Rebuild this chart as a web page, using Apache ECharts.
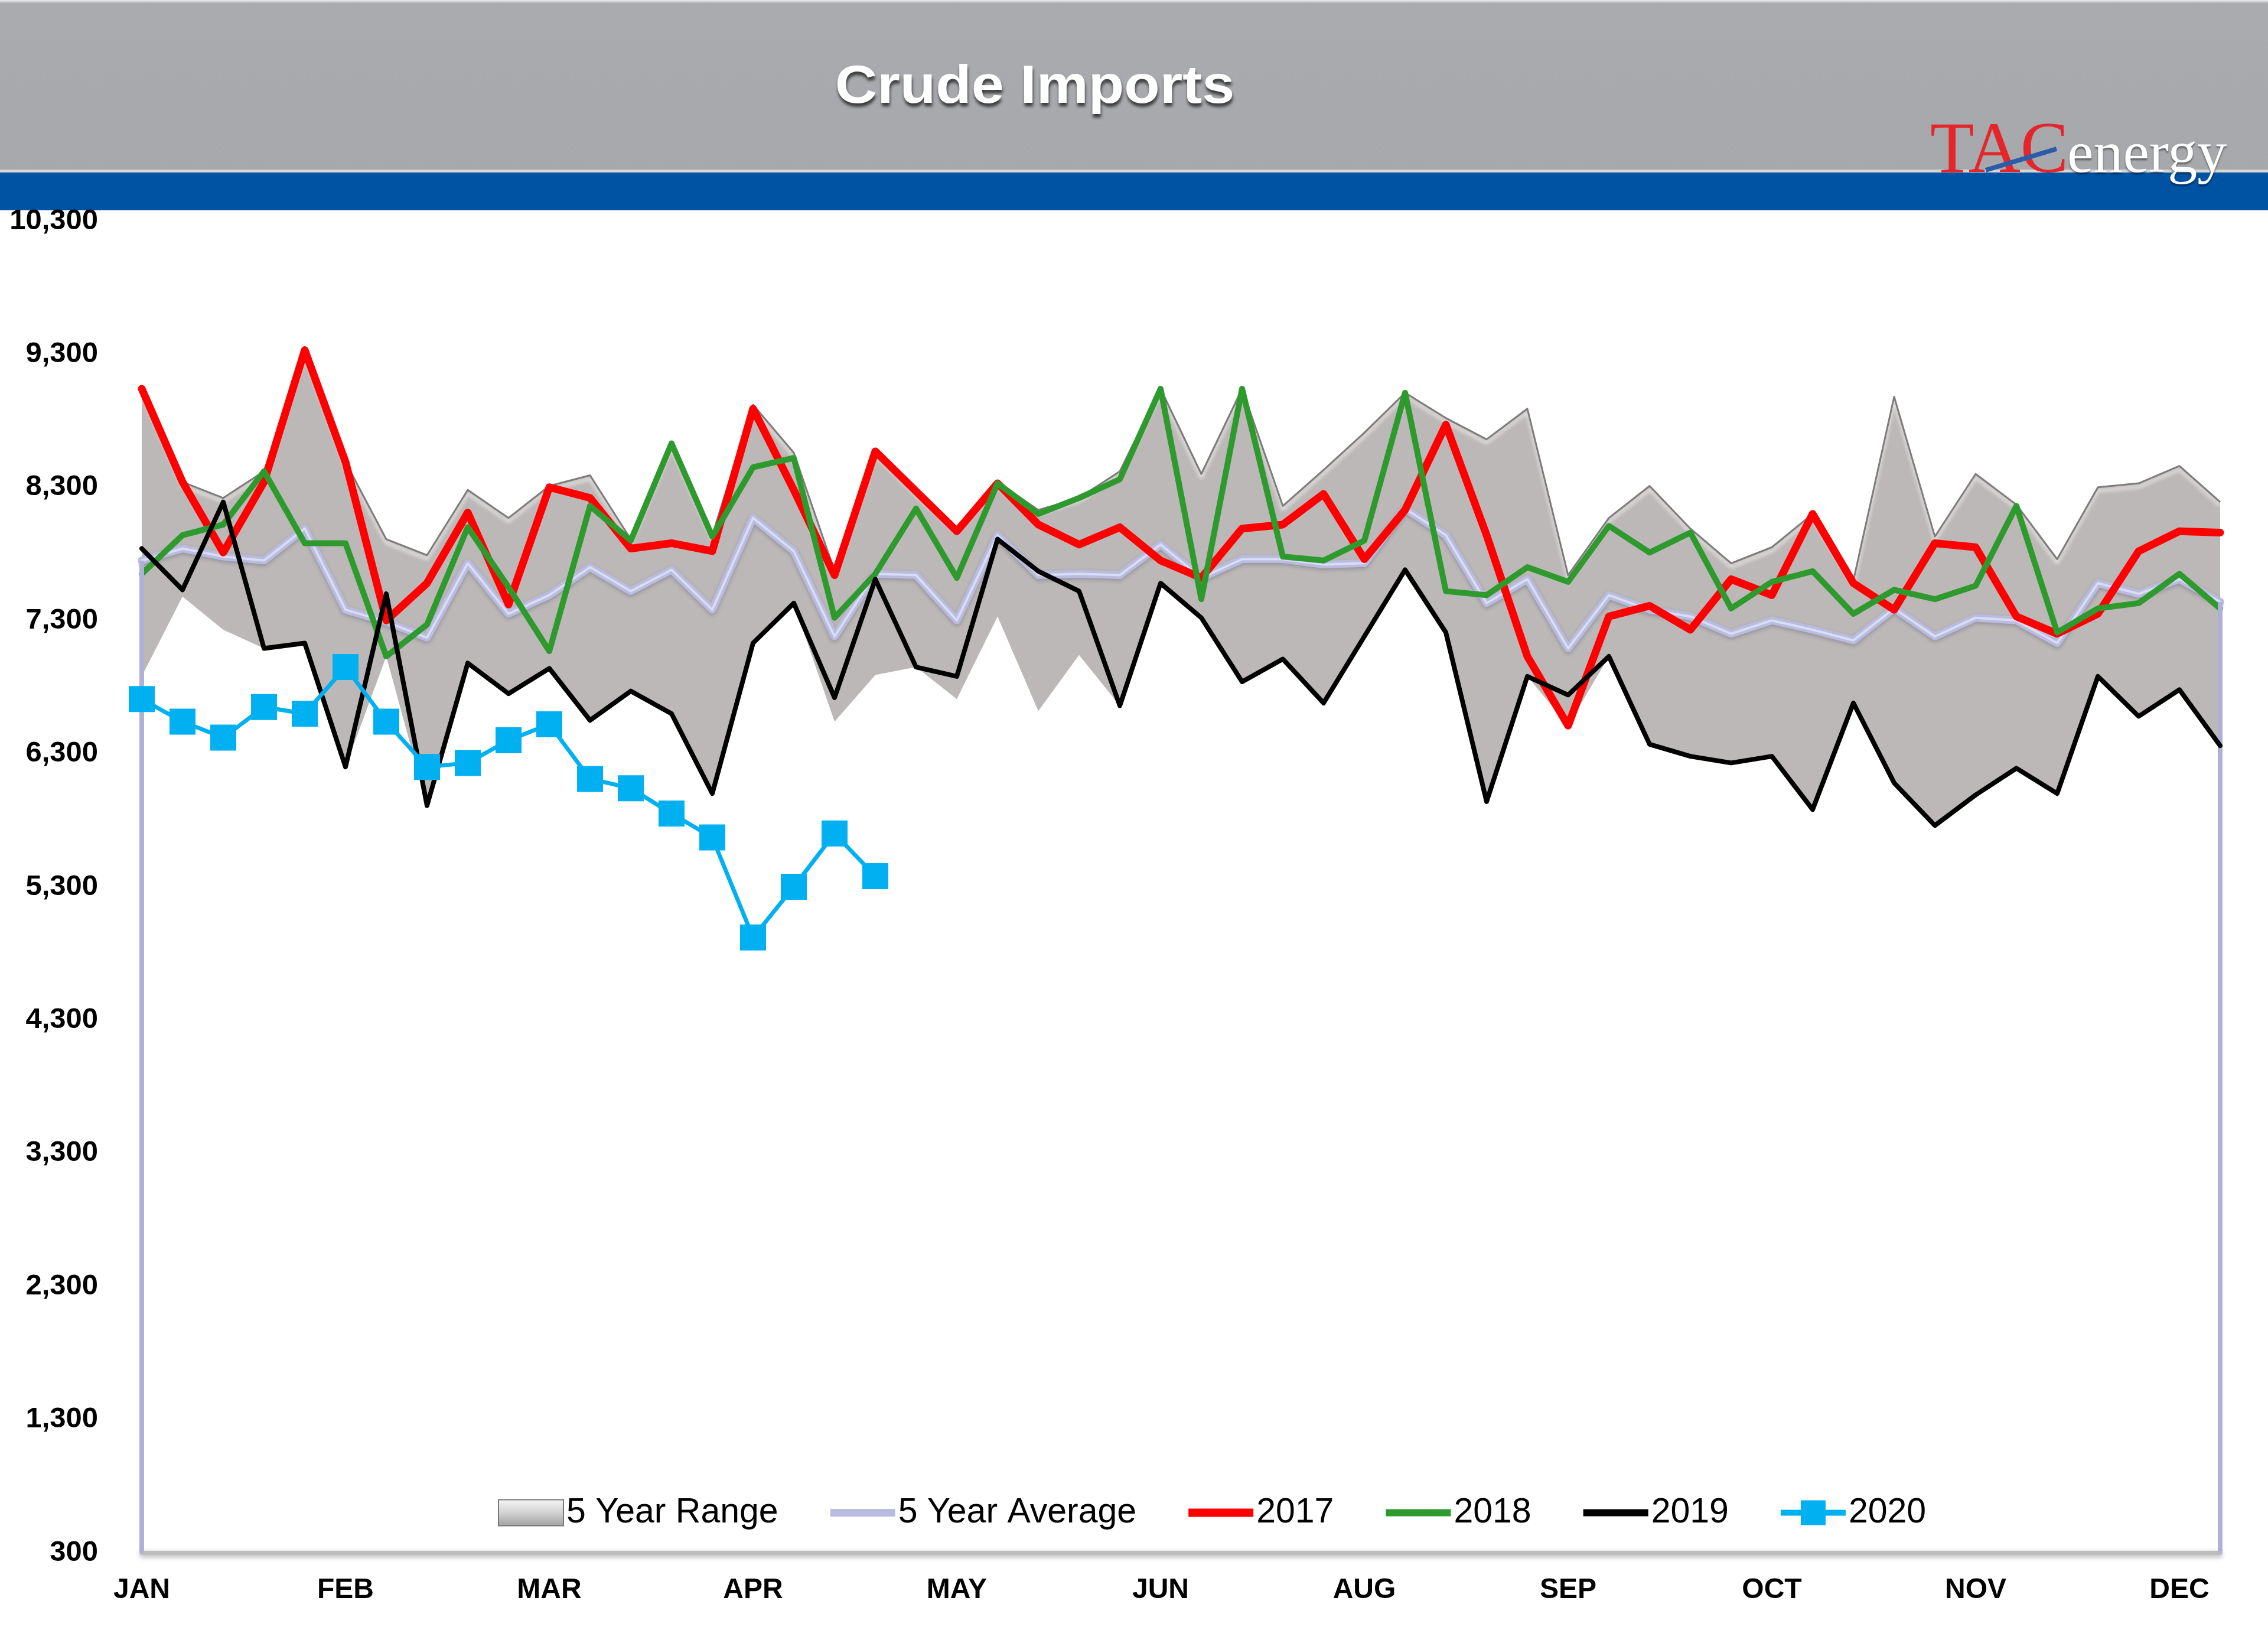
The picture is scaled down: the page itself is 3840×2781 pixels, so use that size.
<!DOCTYPE html>
<html>
<head>
<meta charset="utf-8">
<script src="https://cdn.jsdelivr.net/npm/echarts/dist/echarts.min.js"></script>
<style>
html,body{margin:0;padding:0;background:#ffffff;}
#chart{width:3840px;height:2781px;}
</style>
</head>
<body>
<div id="chart"></div>
<script>
// ---- DATA ----
const monthTicks = ['JAN','FEB','MAR','APR','MAY','JUN','AUG','SEP','OCT','NOV','DEC'];
const weekCount = 52;
const categories = Array.from({length: weekCount}, (_, i) => (i % 5 === 0 ? monthTicks[i / 5] : 'W' + (i + 1)));

const yMin = 300;
const yMax = 10300;
const yStep = 1000;

const range5Max = [9040,8340,8220,8420,9330,8490,7910,7790,8280,8070,
                   8310,8390,7910,8630,7940,8920,8560,7670,8570,8270,
                   7990,8340,8130,8220,8420,9040,8400,9040,8160,8430,
                   8710,9010,8820,8660,8890,7640,8070,8310,7990,7730,
                   7850,8100,7600,8980,7930,8400,8170,7760,8300,8330,
                   8460,8190];
const range5Min = [6880,7480,7230,7090,7130,6200,7030,5910,6980,6750,
                   6940,6550,6770,6600,6000,7130,7430,6540,6890,6950,
                   6710,7330,6620,7040,6660,7580,7320,6840,7010,6680,
                   7180,7680,7210,5940,6880,6510,7030,6370,6280,6230,
                   6280,5880,6680,6080,5760,5990,6190,6000,6880,6580,
                   6780,6360];
const avg5 = [7750,7840,7780,7750,7990,7380,7290,7170,7730,7350,
              7490,7700,7520,7680,7380,8070,7820,7180,7650,7640,
              7300,7940,7640,7650,7640,7870,7620,7760,7760,7720,
              7730,8140,7940,7430,7610,7090,7490,7380,7330,7200,
              7300,7230,7150,7390,7180,7320,7300,7130,7580,7500,
              7610,7440];
const y2017 = [9040,8340,7810,8340,9330,8490,7300,7580,8110,7420,
               8300,8220,7840,7880,7820,8890,8280,7640,8570,8270,
               7970,8330,8020,7870,8000,7750,7620,7990,8020,8250,
               7760,8130,8770,7940,7030,6510,7330,7410,7230,7610,
               7490,8100,7580,7380,7880,7850,7330,7200,7350,7820,
               7970,7960];
const y2018 = [7650,7940,8020,8420,7880,7880,7030,7270,8000,7550,
               7070,8160,7900,8630,7930,8450,8520,7320,7650,8140,
               7620,8330,8100,8220,8360,9040,7460,9040,7780,7750,
               7900,9010,7520,7490,7700,7590,8010,7810,7960,7390,
               7590,7670,7350,7530,7460,7560,8160,7210,7390,7430,
               7650,7390];
const y2019 = [7840,7530,8190,7090,7130,6200,7500,5910,6980,6750,
               6940,6550,6770,6600,6000,7130,7430,6720,7610,6950,
               6880,7910,7670,7520,6660,7580,7320,6840,7010,6680,
               7180,7680,7210,5940,6880,6740,7030,6370,6280,6230,
               6280,5880,6680,6080,5760,5990,6190,6000,6880,6580,
               6780,6360];
const y2020 = [6710,6540,6420,6650,6600,6950,6540,6200,6230,6400,
               6520,6110,6040,5850,5670,4920,5300,5700,5380];

const seriesNames = ['5 Year Range','5 Year Average','2017','2018','2019','2020'];

// derived: height of the range band stacked over the minimum
const rangeSpan = range5Max.map((v, i) => v - range5Min[i]);

const chart = echarts.init(document.getElementById('chart'), null, {renderer: 'canvas'});

const labelFont = 'Liberation Sans';
const colAvg = '#B9BBE0';
const col2017 = '#FF0000';
const col2018 = '#2E9A2E';
const col2019 = '#000000';
const col2020 = '#00B0F0';

function barIcon(t) {
  return 'path://M0,0L110,0L110,' + t + 'L0,' + t + 'Z';
}
const icon2020 = 'path://M0,17L110,17L110,27L0,27Z M34,1L76,1L76,43L34,43Z';

const option = {
  animation: false,
  backgroundColor: '#ffffff',
  grid: {left: 240, right: 81, top: 374, bottom: 153, containLabel: false},
  legend: {
    left: 838,
    top: 2526,
    itemWidth: 110,
    itemHeight: 44,
    itemGap: 88,
    symbolKeepAspect: true,
    textStyle: {fontSize: 59, color: '#000', fontFamily: labelFont},
    data: [
      {name: seriesNames[0], icon: 'rect',
       itemStyle: {color: new echarts.graphic.LinearGradient(0,0,0,1,[{offset:0,color:'#F6F6F6'},{offset:0.5,color:'#D2D2D2'},{offset:1,color:'#A0A0A0'}]),
                   borderColor: '#777777', borderWidth: 2}},
      {name: seriesNames[1], icon: barIcon(13), itemStyle: {color: colAvg, borderWidth: 0}},
      {name: seriesNames[2], icon: barIcon(14), itemStyle: {color: col2017, borderWidth: 0}},
      {name: seriesNames[3], icon: barIcon(12), itemStyle: {color: col2018, borderWidth: 0}},
      {name: seriesNames[4], icon: barIcon(12), itemStyle: {color: col2019, borderWidth: 0}},
      {name: seriesNames[5], icon: icon2020, itemStyle: {color: col2020, borderWidth: 0}}
    ]
  },
  xAxis: {
    type: 'category',
    data: categories,
    boundaryGap: false,
    axisLine: {show: true, lineStyle: {color: '#BDBDBD', width: 7, shadowColor: 'rgba(0,0,0,0.35)', shadowBlur: 8, shadowOffsetY: 3}},
    axisTick: {show: false},
    splitLine: {show: false},
    axisLabel: {
      interval: 4,
      margin: 40,
      fontSize: 48,
      fontWeight: 'bold',
      color: '#000',
      fontFamily: labelFont
    }
  },
  yAxis: {
    type: 'value',
    min: yMin,
    max: yMax,
    interval: yStep,
    axisLine: {show: false},
    axisTick: {show: false},
    splitLine: {show: false},
    axisLabel: {
      margin: 74,
      fontSize: 49,
      fontWeight: 'bold',
      color: '#000',
      fontFamily: labelFont,
      formatter: v => v.toLocaleString('en-US')
    }
  },
  series: [
    {
      name: 'rangeBase', type: 'line', stack: 'range', data: range5Min,
      symbol: 'none', silent: true, lineStyle: {opacity: 0}, z: 1
    },
    {
      name: seriesNames[0], type: 'line', stack: 'range', data: rangeSpan,
      symbol: 'none', silent: true, z: 1,
      itemStyle: {color: '#BCB8B7'},
      lineStyle: {color: '#7E7B7B', width: 3, join: 'round',
                  shadowColor: 'rgba(255,255,255,0.95)', shadowBlur: 6, shadowOffsetY: 6},
      areaStyle: {color: '#BCB8B7', opacity: 1}
    },
    {
      name: seriesNames[1], type: 'line', data: avg5, symbol: 'none', z: 2,
      itemStyle: {color: colAvg},
      lineStyle: {color: colAvg, width: 13, join: 'round', cap: 'round',
                  shadowColor: 'rgba(60,60,90,0.3)', shadowBlur: 6, shadowOffsetY: 3},
      markLine: {
        symbol: 'none', silent: true, label: {show: false},
        lineStyle: {color: '#AEB0D8', width: 8, type: 'solid'},
        data: [
          [{coord: [categories[0], yMin]}, {coord: [categories[0], avg5[0]]}],
          [{coord: [categories[weekCount - 1], yMin]}, {coord: [categories[weekCount - 1], avg5[weekCount - 1]]}]
        ]
      }
    },
    {
      name: 'avgHighlight', type: 'line', data: avg5, symbol: 'none', z: 2, silent: true,
      lineStyle: {color: 'rgba(222,224,244,0.9)', width: 4, join: 'round', cap: 'round'}
    },
    {
      name: seriesNames[2], type: 'line', data: y2017, symbol: 'none', z: 3,
      itemStyle: {color: col2017},
      lineStyle: {color: col2017, width: 13, join: 'round', cap: 'round'}
    },
    {
      name: seriesNames[3], type: 'line', data: y2018, symbol: 'none', z: 4,
      itemStyle: {color: col2018},
      lineStyle: {color: col2018, width: 10, join: 'round', cap: 'round'}
    },
    {
      name: seriesNames[4], type: 'line', data: y2019, symbol: 'none', z: 5,
      itemStyle: {color: col2019},
      lineStyle: {color: col2019, width: 8, join: 'round', cap: 'round'}
    },
    {
      name: seriesNames[5], type: 'line', data: y2020, symbol: 'rect', symbolSize: 44, z: 6,
      itemStyle: {color: col2020},
      lineStyle: {color: col2020, width: 7, join: 'round'}
    }
  ],
  graphic: [
    {type: 'rect', silent: true, z: 0, shape: {x: 0, y: 0, width: 3840, height: 290},
     style: {fill: new echarts.graphic.LinearGradient(0,0,0,1,[{offset:0,color:'#EDEEEF'},{offset:0.02,color:'#A9ABAE'},{offset:1,color:'#A6A8AB'}])}},
    {type: 'rect', silent: true, z: 0, shape: {x: 0, y: 287, width: 3840, height: 5}, style: {fill: '#D8D6D2'}},
    {type: 'rect', silent: true, z: 0, shape: {x: 0, y: 292, width: 3840, height: 64}, style: {fill: '#0052A3'}},
    {type: 'text', silent: true, z: 1, x: 1752, y: 149, scaleX: 1.1, originX: 0,
     style: {text: 'Crude Imports', fill: '#FFFFFF', font: 'bold 90px "Liberation Sans"',
             textAlign: 'center', textVerticalAlign: 'middle',
             textShadowColor: 'rgba(0,0,0,0.65)', textShadowOffsetY: 6, textShadowOffsetX: 1, textShadowBlur: 5}},
    {type: 'text', silent: true, z: 1, x: 3268, y: 320,
     style: {text: 'TAC', fill: '#E4262B', font: '122px "Liberation Serif"', textAlign: 'left', textVerticalAlign: 'bottom'}},
    {type: 'line', silent: true, z: 2, shape: {x1: 3362, y1: 288, x2: 3482, y2: 252},
     style: {stroke: '#2A5CAA', lineWidth: 8}},
    {type: 'text', silent: true, z: 1, x: 3500, y: 315,
     style: {text: 'energy', fill: '#FFFFFF', font: '100px "Liberation Serif"', textAlign: 'left', textVerticalAlign: 'bottom',
             textShadowColor: 'rgba(0,0,0,0.45)', textShadowOffsetY: 3, textShadowBlur: 3}}
  ]
};

chart.setOption(option);
</script>
</body>
</html>
